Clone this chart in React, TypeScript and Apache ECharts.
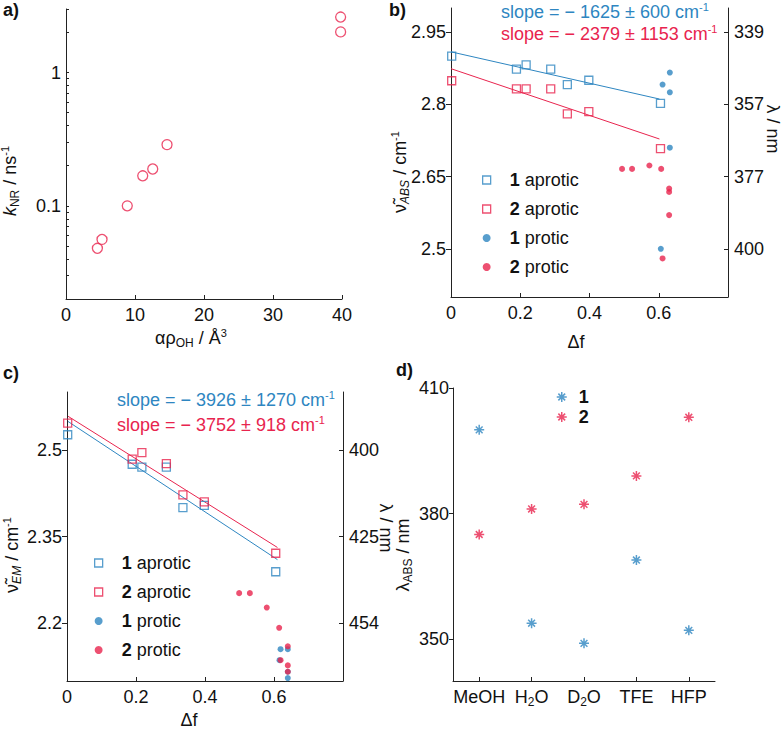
import React, { useEffect, useRef } from 'react';
import * as echarts from 'echarts';

// ---------- data ----------
// panel a
const alphaRho = [4.55, 5.22, 8.88, 11.12, 12.57, 14.64, 39.8, 39.8];
const kNR = [0.048, 0.056, 0.1, 0.168, 0.189, 0.288, 2.02, 2.61];
const logTicks = [0.03, 0.04, 0.05, 0.06, 0.07, 0.08, 0.09, 0.1, 0.2, 0.3, 0.4, 0.5, 0.6, 0.7, 0.8, 0.9, 1, 2, 3];
const logLabels = [0.1, 1];

// panel b (absorption, 10^4 cm-1)
const aproticDf = [0.002, 0.189, 0.217, 0.288, 0.336, 0.398, 0.605];
const b1AproticNu = [2.9, 2.873, 2.882, 2.873, 2.841, 2.85, 2.802];
const b2AproticNu = [2.849, 2.832, 2.832, 2.832, 2.78, 2.785, 2.708];
const b1ProticDf = [0.632, 0.611, 0.632, 0.632, 0.606];
const b1ProticNu = [2.866, 2.841, 2.825, 2.71, 2.5];
const b2ProticDf = [0.494, 0.523, 0.573, 0.607, 0.63, 0.63, 0.63, 0.611];
const b2ProticNu = [2.666, 2.666, 2.673, 2.666, 2.625, 2.618, 2.57, 2.48];
const fitB1 = [[0, 2.909], [0.602, 2.811]];
const fitB2 = [[0, 2.874], [0.602, 2.728]];
const bTicks = [2.5, 2.65, 2.8, 2.95];
const bRightLabels = ['400', '377', '357', '339'];

// panel c (emission, 10^4 cm-1)
const c1AproticNu = [2.526, 2.475, 2.47, 2.47, 2.4, 2.404, 2.289];
const c2AproticNu = [2.546, 2.484, 2.495, 2.476, 2.422, 2.41, 2.321];
const c1ProticDf = [0.619, 0.64, 0.616, 0.64, 0.64];
const c1ProticNu = [2.155, 2.155, 2.136, 2.116, 2.105];
const c2ProticDf = [0.499, 0.53, 0.579, 0.615, 0.64, 0.619, 0.64, 0.64];
const c2ProticNu = [2.252, 2.252, 2.227, 2.192, 2.16, 2.136, 2.127, 2.116];
const fitC1 = [[0.003, 2.549], [0.61, 2.31]];
const fitC2 = [[0.003, 2.558], [0.61, 2.331]];
const cTicks = [2.2, 2.35, 2.5];
const cRightLabels = ['454', '425', '400'];

const dfTicksLabels = ['0', '0.2', '0.4', '0.6'];

// panel d
const solvents = ['MeOH', 'H2O', 'D2O', 'TFE', 'HFP'];
const solventLabels = ['MeOH', 'H{s|2}O', 'D{s|2}O', 'TFE', 'HFP'];
const lambda1 = [400, 353.8, 349, 368.9, 352.1];
const lambda2 = [375, 381.1, 382.2, 389, 403];
const dTicks = [350, 380, 410];

const slopeB = ['slope = \u2212 1625 \u00b1 600 cm', 'slope = \u2212 2379 \u00b1 1153 cm'];
const slopeC = ['slope = \u2212 3926 \u00b1 1270 cm', 'slope = \u2212 3752 \u00b1 918 cm'];
const protLegend = ['1 aprotic', '2 aprotic', '1 protic', '2 protic'];

// ---------- styles ----------
const BLUE = '#2e86c1';
const RED = '#e8244e';
const TXT = '#111';
const AX = '#222';
const FONT = "'Liberation Sans', Arial, Helvetica, sans-serif";
const FS = 18;

const near = (a: number, b: number) => Math.abs(a - b) < 1e-6;
const fmtNum = (v: number) => String(Number(v.toPrecision(4)));

const axisLine = { show: true, onZero: false, lineStyle: { color: AX, width: 1 } };
const labelBase = { color: TXT, fontSize: FS, fontFamily: FONT };

const hollow = (c: string) => ({ color: 'rgba(0,0,0,0)', borderColor: c, borderWidth: 1.3 });
const filled = (c: string) => ({ color: c, borderColor: c, borderWidth: 0 });
const ASTER = 'path://M0,5L10,5M5,0L5,10M1.6,1.6L8.4,8.4M1.6,8.4L8.4,1.6';

const zip = (xs: number[], ys: number[]) => xs.map((x, i) => [x, ys[i]]);

function rt(fill: string, extra: any = {}) {
  return { fontFamily: FONT, fill, ...extra };
}

function gText(x: number, y: number, text: string, opts: any = {}) {
  const fill = opts.fill || TXT;
  return {
    type: 'text',
    x,
    y,
    rotation: opts.rotation || 0,
    silent: true,
    z: 100,
    style: {
      text,
      fontSize: opts.fontSize || FS,
      fontFamily: FONT,
      fontWeight: opts.bold ? 'bold' : 'normal',
      fill,
      align: opts.align || 'center',
      verticalAlign: 'middle',
      lineHeight: 22,
      rich: {
        sub: rt(fill, { fontSize: 12, lineHeight: 14, verticalAlign: 'bottom' }),
        isub: rt(fill, { fontSize: 12, lineHeight: 14, verticalAlign: 'bottom', fontStyle: 'italic' }),
        sup: rt(fill, { fontSize: 11, lineHeight: 14, verticalAlign: 'top' }),
        it: rt(fill, { fontSize: FS, lineHeight: 22, fontStyle: 'italic' }),
        n: rt(fill, { fontSize: FS, lineHeight: 22 }),
      },
    },
  };
}

function legendFmt(name: string) {
  const parts = name.split(' ');
  return parts.length > 1 ? `{g|}{b|${parts[0]}} ${parts.slice(1).join(' ')}` : `{g|}{b|${name}}`;
}

function makeLegend(left: number, top: number, data: any[], gap: number, size: number, gw: number) {
  return {
    orient: 'vertical',
    left,
    top,
    itemWidth: size,
    itemHeight: size,
    itemGap: gap,
    selectedMode: false,
    data,
    formatter: legendFmt,
    textStyle: {
      color: TXT,
      fontSize: FS,
      fontFamily: FONT,
      lineHeight: 20,
      rich: {
        g: { width: gw },
        b: { fontWeight: 'bold', fontSize: FS, fontFamily: FONT, color: TXT, lineHeight: 20 },
      },
    },
  };
}

const protLegendData = [
  { name: protLegend[0], itemStyle: { borderWidth: 1.3 } },
  { name: protLegend[1], itemStyle: { borderWidth: 1.3 } },
  { name: protLegend[2], itemStyle: { borderWidth: 0 } },
  { name: protLegend[3], itemStyle: { borderWidth: 0 } },
];

function buildOption(): any {
  const grid = [
    { left: 66, top: 9, width: 276, height: 290 },
    { left: 451, top: 8, width: 277, height: 289 },
    { left: 67, top: 392, width: 276, height: 289 },
    { left: 453, top: 388, width: 262, height: 293 },
  ];

  const dfAxis = (gi: number) => ({
    type: 'value',
    gridIndex: gi,
    min: 0,
    max: 0.8,
    interval: 0.2,
    axisLine,
    axisTick: { show: true, inside: true, length: 4, lineStyle: { color: AX } },
    axisLabel: {
      ...labelBase,
      margin: 7,
      showMaxLabel: false,
      formatter: (v: number) => {
        const i = Math.round(v / 0.2);
        return dfTicksLabels[i] ?? '';
      },
    },
    splitLine: { show: false },
  });

  const nuAxis = (gi: number, min: number, max: number, ticks: number[], right?: string[]) => ({
    type: 'value',
    gridIndex: gi,
    min,
    max,
    position: right ? 'right' : 'left',
    axisLine,
    axisTick: { show: true, inside: !!right, length: right ? 4 : 5, customValues: ticks, lineStyle: { color: AX } },
    axisLabel: {
      ...labelBase,
      margin: right ? 6 : 5,
      customValues: ticks,
      formatter: (v: number) => {
        if (!right) return fmtNum(v);
        const i = ticks.findIndex((t) => near(t, v));
        return i >= 0 ? right[i] : '';
      },
    },
    splitLine: { show: false },
  });

  const xAxis = [
    {
      type: 'value',
      gridIndex: 0,
      min: 0,
      max: 40,
      interval: 10,
      axisLine,
      axisTick: { show: true, inside: true, length: 4, lineStyle: { color: AX } },
      axisLabel: { ...labelBase, margin: 7 },
      splitLine: { show: false },
    },
    dfAxis(1),
    dfAxis(2),
    {
      type: 'category',
      gridIndex: 3,
      data: solvents,
      boundaryGap: true,
      axisLine,
      axisTick: { show: true, inside: true, length: 4, alignWithLabel: true, lineStyle: { color: AX } },
      axisLabel: {
        ...labelBase,
        margin: 5,
        interval: 0,
        lineHeight: 22,
        formatter: (_v: string, i: number) => solventLabels[i],
        rich: {
          s: { fontSize: 12, fontFamily: FONT, color: TXT, lineHeight: 14, verticalAlign: 'bottom' },
        },
      },
      splitLine: { show: false },
    },
  ];

  const yAxis = [
    {
      type: 'log',
      gridIndex: 0,
      logBase: 10,
      min: 0.02,
      max: 3,
      axisLine,
      axisTick: { show: true, inside: true, length: 3, customValues: logTicks, lineStyle: { color: AX } },
      axisLabel: {
        ...labelBase,
        margin: 5,
        customValues: logLabels,
        formatter: (v: number) => fmtNum(v),
      },
      splitLine: { show: false },
      minorTick: { show: false },
    },
    nuAxis(1, 2.4, 3.0, bTicks),
    nuAxis(1, 2.4, 3.0, bTicks, bRightLabels),
    nuAxis(2, 2.1, 2.6, cTicks),
    nuAxis(2, 2.1, 2.6, cTicks, cRightLabels),
    {
      type: 'value',
      gridIndex: 3,
      min: 340,
      max: 410,
      axisLine,
      axisTick: { show: true, inside: false, length: 4, customValues: dTicks, lineStyle: { color: AX } },
      axisLabel: { ...labelBase, margin: 4, customValues: dTicks },
      splitLine: { show: false },
    },
  ];

  const sc = (name: string, xi: number, yi: number, data: any[], symbol: string, size: number, itemStyle: any) => ({
    type: 'scatter',
    name,
    xAxisIndex: xi,
    yAxisIndex: yi,
    data,
    symbol,
    symbolSize: size,
    itemStyle,
    silent: true,
    z: 3,
  });
  const fit = (xi: number, yi: number, data: number[][], c: string) => ({
    type: 'line',
    xAxisIndex: xi,
    yAxisIndex: yi,
    data,
    symbol: 'none',
    lineStyle: { color: c, width: 1 },
    silent: true,
    z: 2,
  });

  const series = [
    sc('a', 0, 0, zip(alphaRho, kNR), 'circle', 10, hollow(RED)),

    fit(1, 1, fitB1, BLUE),
    fit(1, 1, fitB2, RED),
    sc(protLegend[0], 1, 1, zip(aproticDf, b1AproticNu), 'rect', 8, hollow(BLUE)),
    sc(protLegend[1], 1, 1, zip(aproticDf, b2AproticNu), 'rect', 8, hollow(RED)),
    sc(protLegend[2], 1, 1, zip(b1ProticDf, b1ProticNu), 'circle', 6, filled(BLUE)),
    sc(protLegend[3], 1, 1, zip(b2ProticDf, b2ProticNu), 'circle', 6, filled(RED)),

    fit(2, 3, fitC1, BLUE),
    fit(2, 3, fitC2, RED),
    sc(protLegend[0], 2, 3, zip(aproticDf, c1AproticNu), 'rect', 8, hollow(BLUE)),
    sc(protLegend[1], 2, 3, zip(aproticDf, c2AproticNu), 'rect', 8, hollow(RED)),
    sc(protLegend[2], 2, 3, zip(c1ProticDf, c1ProticNu), 'circle', 6, filled(BLUE)),
    sc(protLegend[3], 2, 3, zip(c2ProticDf, c2ProticNu), 'circle', 6, filled(RED)),

    sc('1', 3, 5, lambda1, ASTER, 10, { color: 'rgba(0,0,0,0)', borderColor: BLUE, borderWidth: 1.5 }),
    sc('2', 3, 5, lambda2, ASTER, 10, { color: 'rgba(0,0,0,0)', borderColor: RED, borderWidth: 1.5 }),
  ];

  const legend = [
    makeLegend(477, 165, protLegendData, 9, 8, 14),
    makeLegend(89, 548, protLegendData, 9, 8, 14),
    makeLegend(551, 382, [
      { name: '1', itemStyle: { borderWidth: 1.5 } },
      { name: '2', itemStyle: { borderWidth: 1.5 } },
    ], 0, 10, 7),
  ];

  const graphic = [
    gText(3, 10, 'a)', { bold: true, align: 'left' }),
    gText(389, 10, 'b)', { bold: true, align: 'left' }),
    gText(3, 373, 'c)', { bold: true, align: 'left' }),
    gText(396, 370, 'd)', { bold: true, align: 'left' }),

    // axis names
    gText(191, 338, '\u03b1\u03c1{sub|OH} / \u00c5{sup|3}'),
    gText(10, 181, '{it|k}{sub|NR} / ns{sup|-1}', { rotation: Math.PI / 2 }),
    gText(576, 342, '\u0394f'),
    gText(400, 172, '{n|\u03bd\u0303}{isub|ABS} / cm{sup|-1}', { rotation: Math.PI / 2 }),
    gText(773, 129, '\u03bb / nm', { rotation: -Math.PI / 2 }),
    gText(189, 720, '\u0394f'),
    gText(12, 555, '{n|\u03bd\u0303}{isub|EM} / cm{sup|-1}', { rotation: Math.PI / 2 }),
    gText(386, 528, '\u03bb / nm', { rotation: -Math.PI / 2 }),
    gText(403, 555, '\u03bb{sub|ABS} / nm', { rotation: Math.PI / 2 }),

    // slope annotations
    gText(501, 12, slopeB[0] + '{sup|-1}', { fill: BLUE, align: 'left' }),
    gText(501, 34, slopeB[1] + '{sup|-1}', { fill: RED, align: 'left' }),
    gText(117, 400, slopeC[0] + '{sup|-1}', { fill: BLUE, align: 'left' }),
    gText(117, 425, slopeC[1] + '{sup|-1}', { fill: RED, align: 'left' }),
  ];

  return {
    animation: false,
    backgroundColor: '#ffffff',
    textStyle: { fontFamily: FONT },
    grid,
    xAxis,
    yAxis,
    series,
    legend,
    graphic,
  };
}

export default function App() {
  const ref = useRef<HTMLDivElement>(null);
  useEffect(() => {
    if (!ref.current) return;
    const chart = echarts.init(ref.current, null, { renderer: 'svg' });
    chart.setOption(buildOption());
    return () => chart.dispose();
  }, []);
  return (
    <div
      ref={ref}
      style={{ position: 'absolute', left: 0, top: 0, width: 784, height: 732, background: '#fff' }}
    />
  );
}
